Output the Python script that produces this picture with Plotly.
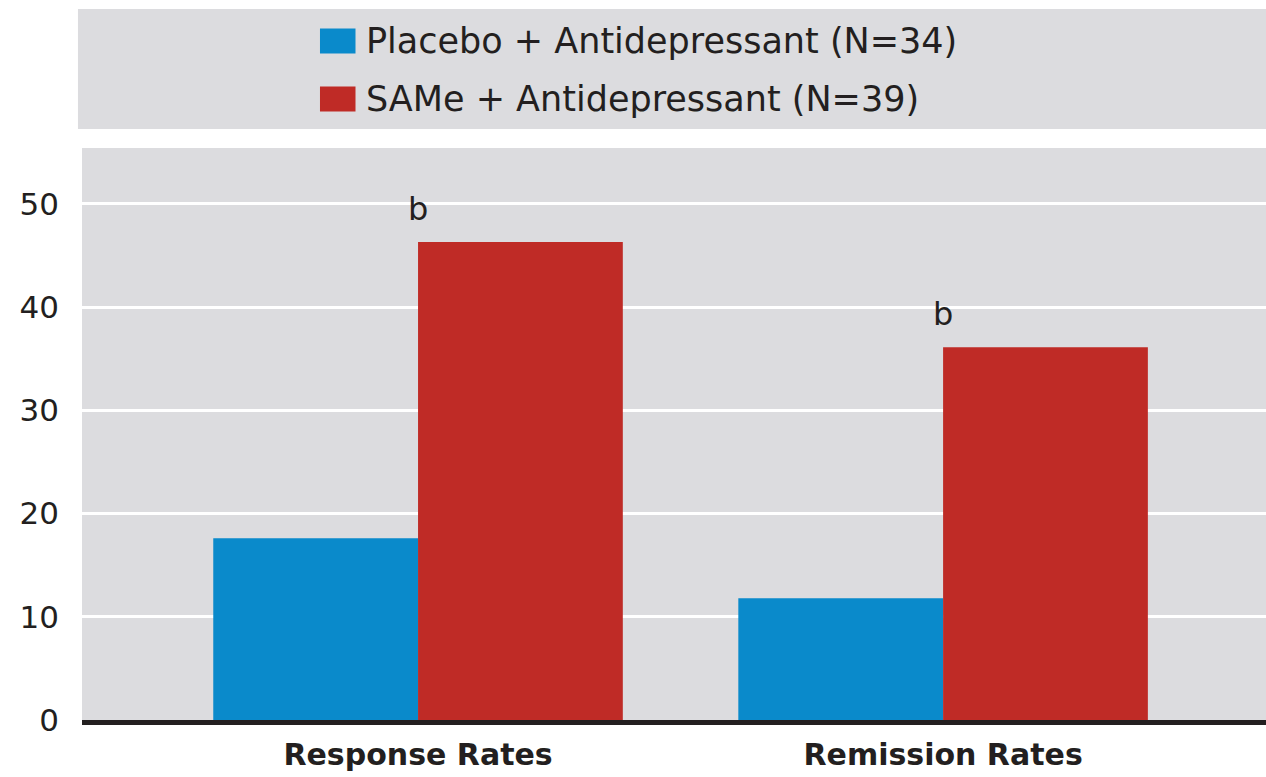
import plotly.graph_objects as go

categories = ["Response Rates", "Remission Rates"]
placebo = [17.6, 11.8]
same = [46.3, 36.1]
labels = ["Placebo + Antidepressant (N=34)", "SAMe + Antidepressant (N=39)"]
sig_marks = ["b", "b"]
tick_vals = [0, 10, 20, 30, 40, 50]

BLUE = "#0a8acb"
RED = "#bf2b26"
GRAY = "#dcdcdf"
INK = "#231f20"
FONT = "DejaVu Sans"

fig = go.Figure()
fig.add_bar(x=categories, y=placebo, name=labels[0], marker=dict(color=BLUE, line=dict(width=0)))
fig.add_bar(x=categories, y=same, name=labels[1], marker=dict(color=RED, line=dict(width=0)))

# significance letters above the SAMe bars
for cat, val, mark in zip(categories, same, sig_marks):
    fig.add_annotation(
        x=cat, y=val, text=mark, showarrow=False, yanchor="bottom", yshift=12,
        font=dict(family=FONT, size=32, color=INK),
    )

# legend panel drawn by hand (big swatches)
fig.add_shape(type="rect", xref="paper", yref="paper", x0=-0.0034, x1=1.0, y0=1.033, y1=1.243,
              fillcolor=GRAY, line=dict(width=0), layer="below")
for i, (lab, col) in enumerate(zip(labels, [BLUE, RED])):
    yc = 1.187 - i * 0.1013
    fig.add_shape(type="rect", xref="paper", yref="paper", x0=0.201, x1=0.231,
                  y0=yc - 0.022, y1=yc + 0.022, fillcolor=col, line=dict(width=0))
    fig.add_annotation(xref="paper", yref="paper", x=0.238, y=yc, text=lab, showarrow=False,
                       xanchor="left", yanchor="middle",
                       font=dict(family=FONT, size=35, color=INK))

fig.update_layout(
    width=1266, height=777,
    margin=dict(l=82, r=0, t=148, b=57),
    paper_bgcolor="white", plot_bgcolor=GRAY,
    barmode="group", bargap=0.22, bargroupgap=0,
    showlegend=False,
    font=dict(family=FONT, color=INK),
)
fig.update_xaxes(
    range=[-0.64, 1.615], showgrid=False, showline=True, linecolor=INK, linewidth=5,
    ticks="", ticklabelstandoff=4, automargin=False,
    tickfont=dict(family=FONT, size=30, color=INK, weight="bold"),
)
fig.update_yaxes(
    range=[0, 55.4], tickvals=tick_vals, showgrid=True, gridcolor="white", gridwidth=3,
    zeroline=False, ticks="", ticklabelstandoff=22, automargin=False,
    tickfont=dict(family=FONT, size=31, color=INK),
)

fig.write_html("out.html", config={"displayModeBar": False},
               post_script="document.body.style.margin='0';")
